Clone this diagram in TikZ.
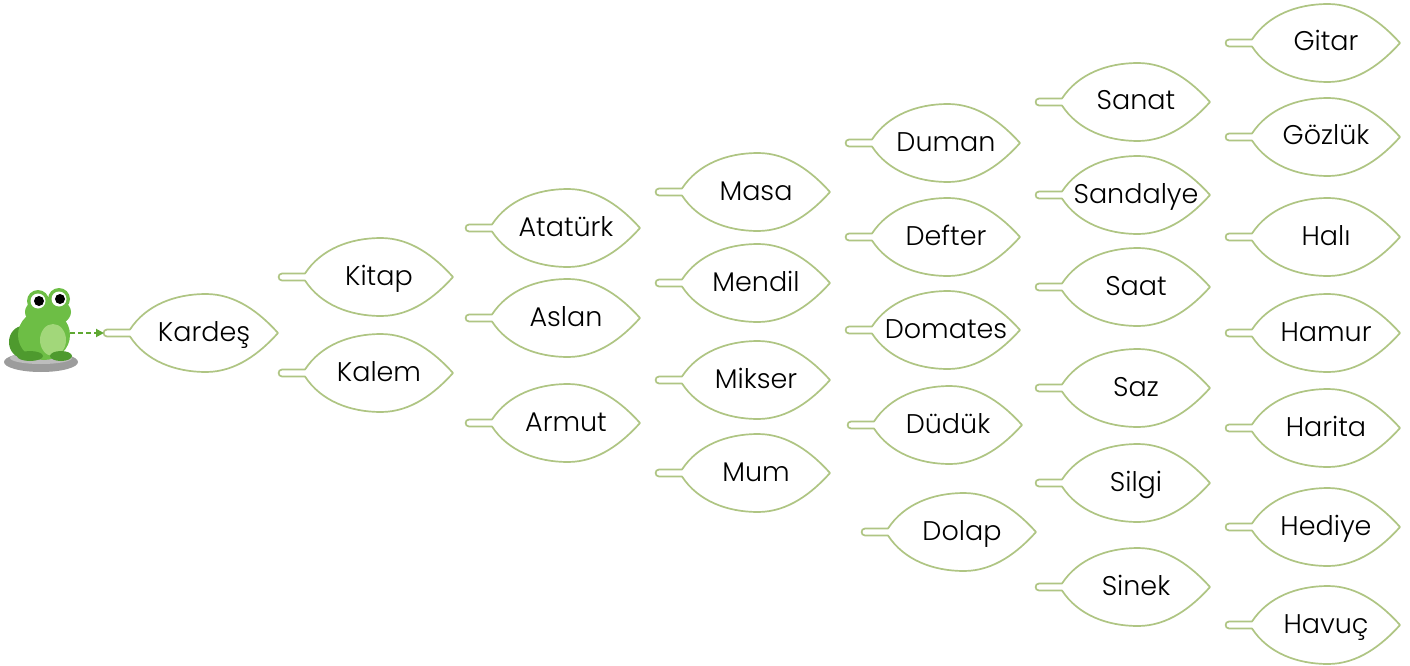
\documentclass[tikz,border=0pt]{standalone}
\usepackage{fontspec}
\setmainfont{Poppins Light}
\usetikzlibrary{arrows.meta}
\definecolor{leafline}{HTML}{AFC583}
\definecolor{arrowgreen}{HTML}{5FA832}
\definecolor{frogbody}{HTML}{6DBE45}
\definecolor{frogdark}{HTML}{4E9A2E}
\definecolor{froglight}{HTML}{A2D77A}
\definecolor{stone}{HTML}{9C9C9C}
\definecolor{stonelight}{HTML}{BDBDBD}
\tikzset{
  leafpath/.style={draw=leafline, line width=1.7pt, fill=white, line join=round},
  word/.style={font=\fontsize{27}{30}\selectfont, text=black, anchor=base, inner sep=0pt},
  frogarrow/.style={draw=arrowgreen, line width=1.8pt, dash pattern=on 5pt off 3pt,
    -{Triangle[length=8pt,width=8pt]}},
  pics/leaf/.style={code={
    \draw[leafpath] (-23,-3.5) -- (0,-3.5)
      .. controls (16,-28) and (45,-39) .. (76,-39)
      .. controls (106,-39) and (130,-20) .. (148,0)
      .. controls (130,20) and (106,39) .. (76,39)
      .. controls (45,39) and (16,28) .. (0,3.5)
      -- (-23,3.5) .. controls (-27.5,3.5) and (-27.5,-3.5) .. cycle;
    \coordinate (-stem) at (-26,0);
    \node[word] (-t) at (74,8) {#1};
  }}
}
\begin{document}
\begin{tikzpicture}[x=1pt,y=-1pt]
\useasboundingbox (0,0) rectangle (1410,666);
\fill[white] (0,0) rectangle (1410,666);

% frog on a stone
\fill[stone] (41,362) ellipse [x radius=37, y radius=10];
\fill[stonelight] (41,358) ellipse [x radius=31, y radius=6];
\fill[frogdark] (23,342) ellipse [x radius=14, y radius=16];
\fill[frogbody] (44,335) ellipse [x radius=26, y radius=25];
\fill[frogbody] (48,312) ellipse [x radius=23, y radius=15];
\fill[froglight] (53,340) ellipse [x radius=13, y radius=16];
\fill[frogdark] (30,356) ellipse [x radius=13, y radius=5];
\fill[frogdark] (61,356) ellipse [x radius=11, y radius=5];
\fill[frogbody] (38,301) circle [radius=11];
\fill[frogbody] (59,299) circle [radius=11];
\fill[white] (38,301) circle [radius=7.5];
\fill[white] (59,299) circle [radius=7.5];
\fill[black] (39,301) circle [radius=5];
\fill[black] (60,299) circle [radius=5];
\node[inner sep=0pt, minimum width=30pt, minimum height=20pt] (frog) at (55,333) {};

% column 1
\pic (kardes) at (130,333) {leaf={Kardeş}};
% column 2
\pic (kitap) at (305,277) {leaf={Kitap}};
\pic (kalem) at (305,373) {leaf={Kalem}};
% column 3
\pic (ataturk) at (492,228) {leaf={Atatürk}};
\pic (aslan)   at (492,318) {leaf={Aslan}};
\pic (armut)   at (492,423) {leaf={Armut}};
% column 4
\pic (masa)   at (682,192) {leaf={Masa}};
\pic (mendil) at (682,283) {leaf={Mendil}};
\pic (mikser) at (682,380) {leaf={Mikser}};
\pic (mum)    at (682,473) {leaf={Mum}};
% column 5
\pic (duman)   at (872,143) {leaf={Duman}};
\pic (defter)  at (872,237) {leaf={Defter}};
\pic (domates) at (872,330) {leaf={Domates}};
\pic (duduk)   at (874,425) {leaf={Düdük}};
\pic (dolap)   at (888,532) {leaf={Dolap}};
% column 6
\pic (sanat)    at (1062,102) {leaf={Sanat}};
\pic (sandalye) at (1062,195) {leaf={Sandalye}};
\pic (saat)     at (1062,287) {leaf={Saat}};
\pic (saz)      at (1062,388) {leaf={Saz}};
\pic (silgi)    at (1062,483) {leaf={Silgi}};
\pic (sinek)    at (1062,587) {leaf={Sinek}};
% column 7
\pic (gitar)  at (1252,43)  {leaf={Gitar}};
\pic (gozluk) at (1252,137) {leaf={Gözlük}};
\pic (hali)   at (1252,237) {leaf={Halı}};
\pic (hamur)  at (1252,333) {leaf={Hamur}};
\pic (harita) at (1252,428) {leaf={Harita}};
\pic (hediye) at (1252,527) {leaf={Hediye}};
\pic (havuc)  at (1252,625) {leaf={Havuç}};

% dashed arrow from the frog to the first leaf
\draw[frogarrow] (frog.east) -- (kardes-stem);
\end{tikzpicture}
\end{document}
